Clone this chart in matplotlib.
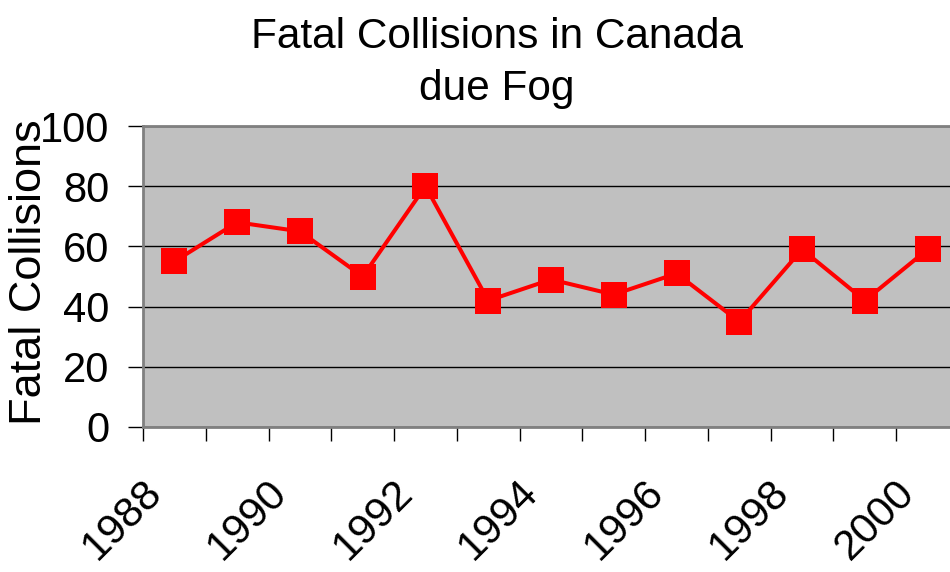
import matplotlib
matplotlib.use("Agg")
import matplotlib.pyplot as plt
from matplotlib.transforms import ScaledTranslation
import numpy as np

# data
years = [1988, 1989, 1990, 1991, 1992, 1993, 1994, 1995, 1996, 1997, 1998, 1999, 2000]
collisions = [55, 68, 65, 50, 80, 42, 49, 44, 51, 35, 59, 42, 59]
yticks = [0, 20, 40, 60, 80, 100]

plt.rcParams['font.family'] = ['Liberation Sans', 'DejaVu Sans']

fig = plt.figure(figsize=(9.5, 5.72), dpi=100)
ax = fig.add_axes([143/950, 1 - 427/572, (959 - 143)/950, (427 - 126)/572])
ax.set_facecolor('#C0C0C0')

x = np.arange(len(years))
ax.plot(x, collisions, color='#FF0000', lw=2.9, marker='s', ms=18.5,
        markeredgewidth=0, zorder=3, clip_on=False)

ax.set_xlim(-0.5, len(years) - 0.5)
ax.set_ylim(0, 100)
ax.set_yticks(yticks)
ax.set_yticklabels([str(v) for v in yticks], fontsize=30)
ax.tick_params(axis='y', length=11, width=1, color='black', pad=13)
ax.yaxis.grid(True, color='black', lw=1)
ax.set_axisbelow(True)

# tick marks between categories, labels under every second category
ax.set_xticks(np.arange(len(years) + 1) - 0.5)
ax.set_xticklabels([])
ax.tick_params(axis='x', which='major', length=10, width=1, color='black')
ax.set_xticks(x, minor=True)
ax.set_xticklabels([str(y) if i % 2 == 0 else '' for i, y in enumerate(years)],
                   minor=True, fontsize=30.5, rotation=45, ha='right',
                   va='center', rotation_mode='anchor')
ax.tick_params(axis='x', which='minor', length=0, pad=43)
off = ScaledTranslation(-0.19, 0, fig.dpi_scale_trans)
for lab in ax.get_xticklabels(minor=True):
    lab.set_transform(lab.get_transform() + off)

for s in ['left', 'bottom', 'top']:
    ax.spines[s].set_color('#808080')
    ax.spines[s].set_linewidth(2)
ax.spines['right'].set_visible(False)

fig.text(30/950, 1 - 272/572, 'Fatal Collisions', rotation=90, fontsize=32.5,
         ha='center', va='center')
fig.text(497/950, 1 - 63/572, 'Fatal Collisions in Canada\ndue Fog', fontsize=30.5,
         ha='center', va='center', linespacing=1.38)

fig.savefig('out.png', dpi=100)
